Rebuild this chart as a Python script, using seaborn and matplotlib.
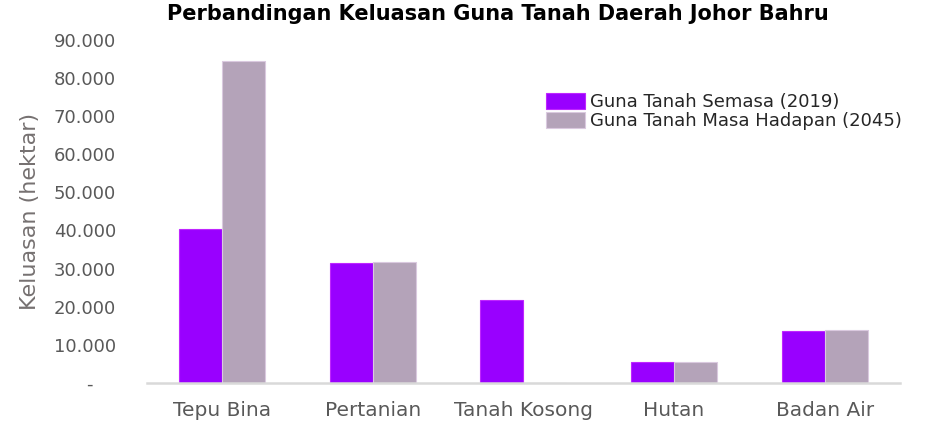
import matplotlib
matplotlib.use("Agg")
import matplotlib.pyplot as plt
from matplotlib.ticker import FuncFormatter
import seaborn as sns
import pandas as pd

# data (hektar)
kategori = ["Tepu Bina", "Pertanian", "Tanah Kosong", "Hutan", "Badan Air"]
semasa_2019 = [40300, 31400, 21800, 5600, 13600]
hadapan_2045 = [84400, 31700, 0, 5600, 13800]
siri = ["Guna Tanah Semasa (2019)", "Guna Tanah Masa Hadapan (2045)"]
warna = ["#9900FF", "#B4A3B9"]

df = pd.DataFrame({
    "kategori": kategori * 2,
    "siri": [siri[0]] * len(kategori) + [siri[1]] * len(kategori),
    "nilai": semasa_2019 + hadapan_2045,
})

sns.set_theme(style="white")
plt.rcParams["font.family"] = ["DejaVu Sans"]

fig = plt.figure(figsize=(9.28, 4.24), dpi=100)
ax = fig.add_axes([0.158, 0.097, 0.812, 0.809])

sns.barplot(data=df, x="kategori", y="nilai", hue="siri", hue_order=siri,
            palette=warna, width=0.57, gap=0, ax=ax, saturation=1,
            edgecolor="white", linewidth=0.8)

# lighter edges like the original
for bar in ax.patches:
    fc = bar.get_facecolor()
    bar.set_edgecolor((min(1, fc[0] + 0.15), min(1, fc[1] + 0.15), min(1, fc[2] + 0.15), 1))

ax.set_ylim(0, 90000)
ax.set_yticks(range(0, 90001, 10000))
ax.yaxis.set_major_formatter(FuncFormatter(
    lambda v, p: "-    " if v == 0 else f"{int(v):,}".replace(",", ".")))
ax.set_xlim(-0.5, 4.5)

ax.tick_params(axis="both", length=0, colors="#595959")
ax.tick_params(axis="y", pad=22, labelsize=13)
ax.tick_params(axis="x", pad=13, labelsize=14.5)
ax.set_xlabel("")
ax.set_ylabel("Keluasan (hektar)", fontsize=16, color="#767171", labelpad=10)

sns.despine(ax=ax, left=True)
ax.spines["bottom"].set_color("#D9D9D9")
ax.spines["bottom"].set_linewidth(1.8)

ax.legend(loc="upper left", bbox_to_anchor=(0.52, 0.866), frameon=False,
          fontsize=13, handlelength=2.2, handleheight=0.95, labelspacing=0.05,
          handletextpad=0.25, borderaxespad=0, labelcolor="#262626")

fig.suptitle("Perbandingan Keluasan Guna Tanah Daerah Johor Bahru",
             fontsize=15, fontweight="bold", x=0.537, y=0.99, va="top",
             color="black")

fig.savefig("out.png", dpi=100)
